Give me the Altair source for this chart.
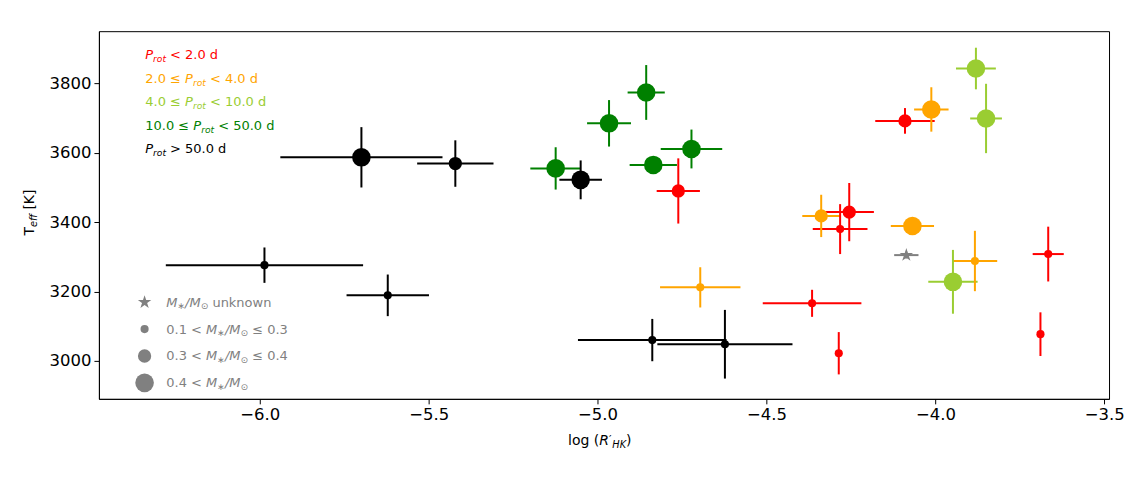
import altair as alt
import pandas as pd

# ---------------- data ----------------
rot_cat = ["gt50", "gt50", "gt50", "gt50", "gt50", "gt50", "gt50",
           "10to50", "10to50", "10to50", "10to50", "10to50",
           "4to10", "4to10", "4to10",
           "2to4", "2to4", "2to4", "2to4", "2to4",
           "lt2", "lt2", "lt2", "lt2", "lt2", "lt2", "lt2", "lt2",
           "unk"]
mass_cat = ["large", "med", "large", "small", "small", "small", "small",
            "large", "large", "large", "large", "large",
            "large", "large", "large",
            "large", "med", "large", "small", "small",
            "med", "med", "med", "small", "small", "small", "small", "small",
            "unk"]
log_rhk = [-5.699, -5.421, -5.050, -5.986, -5.621, -4.838, -4.623,
           -5.124, -4.966, -4.856, -4.835, -4.722,
           -3.880, -3.850, -3.948,
           -4.012, -4.338, -4.068, -3.883, -4.696,
           -4.090, -4.761, -4.255, -4.282, -4.365, -4.286, -3.666, -3.689,
           -4.086]
log_rhk_err = [0.240, 0.113, 0.063, 0.292, 0.122, 0.220, 0.200,
               0.075, 0.065, 0.055, 0.070, 0.091,
               0.059, 0.047, 0.073,
               0.051, 0.056, 0.064, 0.066, 0.119,
               0.088, 0.064, 0.073, 0.081, 0.146, 0.010, 0.046, 0.010,
               0.036]
teff = [3587, 3569, 3522, 3276, 3189, 3060, 3048,
        3555, 3685, 3774, 3565, 3611,
        3843, 3699, 3228,
        3725, 3418, 3389, 3288, 3212,
        3692, 3490, 3429, 3380, 3166, 3022, 3308, 3077,
        3305]
teff_err = [87, 67, 56, 51, 60, 61, 99,
            61, 67, 79, 20, 56,
            60, 100, 92,
            64, 61, 15, 87, 58,
            37, 94, 84, 72, 39, 61, 79, 63,
            10]

x_ticks = [-6.0, -5.5, -5.0, -4.5, -4.0, -3.5]
y_ticks = [3000, 3200, 3400, 3600, 3800]

rot_order = ["lt2", "2to4", "4to10", "10to50", "gt50"]
rot_labels = [
    [("P", "i"), ("rot", "sub"), (" < 2.0 d", "n")],
    [("2.0 ≤ ", "n"), ("P", "i"), ("rot", "sub"), (" < 4.0 d", "n")],
    [("4.0 ≤ ", "n"), ("P", "i"), ("rot", "sub"), (" < 10.0 d", "n")],
    [("10.0 ≤ ", "n"), ("P", "i"), ("rot", "sub"), (" < 50.0 d", "n")],
    [("P", "i"), ("rot", "sub"), (" > 50.0 d", "n")],
]
mass_order = ["unk", "small", "med", "large"]
_msun = [("M", "i"), ("∗", "sub"), ("/", "i"), ("M", "i"), ("⊙", "sub")]
mass_labels = [
    _msun + [(" unknown", "n")],
    [("0.1 < ", "n")] + _msun + [(" ≤ 0.3", "n")],
    [("0.3 < ", "n")] + _msun + [(" ≤ 0.4", "n")],
    [("0.4 < ", "n")] + _msun,
]

# ---------------- styles ----------------
STAR = ("M0,-1L0.2245,-0.309L0.951,-0.309L0.363,0.118L0.588,0.809L0,0.382"
        "L-0.588,0.809L-0.363,0.118L-0.951,-0.309L-0.2245,-0.309Z")
ROT_COLOR = {"lt2": "#ff0000", "2to4": "#ffa500", "4to10": "#9acd32",
             "10to50": "#008000", "gt50": "#000000", "unk": "#808080"}
MASS_SIZE = {"unk": 200, "small": 66, "med": 177, "large": 346}
MASS_SHAPE = {"unk": STAR, "small": "circle", "med": "circle", "large": "circle"}

W, H = 1011, 368
XLO, XHI = -6.476, -3.486
YLO, YHI = 2890.5, 3950.7


def px2x(px):
    return XLO + px * (XHI - XLO) / W


def py2y(py):
    return YHI - py * (YHI - YLO) / H


EM = {"0": .636, "1": .636, "2": .636, "3": .636, "4": .636, "5": .636,
      "6": .636, "7": .636, "8": .636, "9": .636, ".": .318, " ": .318,
      "<": .838, ">": .838, "≤": .838, "d": .635, "P": .603, "r": .411,
      "o": .612, "t": .392, "M": .863, "/": .337, "∗": .838, "⊙": .838,
      "u": .634, "n": .634, "k": .579, "w": .818, "l": .278, "g": .635,
      "(": .39, ")": .39, "R": .695, "H": .752, "K": .656, "T": .611,
      "e": .615, "f": .352, "[": .39, "]": .39, "′": .3}


def tw(s):
    return sum(EM.get(c, 0.6) for c in s)


def compose(pieces, x0, y0, fs, col, rotated=False):
    rows = []
    pos = 0.0
    for txt, sty in pieces:
        if sty == "sub":
            size, ital, off = fs * 0.7, True, fs * 0.22
        elif sty == "sup":
            size, ital, off = fs * 0.8, False, -fs * 0.1
        elif sty == "i":
            size, ital, off = fs, True, 0.0
        else:
            size, ital, off = fs, False, 0.0
        lead = len(txt) - len(txt.lstrip(" "))
        pos += lead * EM[" "] * size
        t = txt.strip(" ")
        if rotated:
            px, py = x0 + off, y0 - pos
        else:
            px, py = x0 + pos, y0 + off
        rows.append(dict(text=t, x=px2x(px), y=py2y(py), size=size,
                         col=col, rot=rotated, ital=ital))
        pos += tw(t) * size
        trail = len(txt.lstrip(" ")) - len(t)
        pos += trail * EM[" "] * size
    return rows


# ---------------- tables ----------------
pts = pd.DataFrame({
    "x": log_rhk, "xe": log_rhk_err, "y": teff, "ye": teff_err,
    "rot": rot_cat, "mass": mass_cat,
})
pts["xlo"] = pts["x"] - pts["xe"]
pts["xhi"] = pts["x"] + pts["xe"]
pts["ylo"] = pts["y"] - pts["ye"]
pts["yhi"] = pts["y"] + pts["ye"]
pts["col"] = pts["rot"].map(ROT_COLOR)
pts["sz"] = pts["mass"].map(MASS_SIZE)
pts["shape"] = pts["mass"].map(MASS_SHAPE)

# legend markers (mass)
leg_pts = pd.DataFrame({
    "x": [px2x(45.7)] * 4,
    "y": [py2y(271.3 + 26.9 * i) for i in range(4)],
    "col": ["#808080"] * 4,
    "sz": [MASS_SIZE[m] for m in mass_order],
    "shape": [MASS_SHAPE[m] for m in mass_order],
})

text_rows = []
for i, (r, pieces) in enumerate(zip(rot_order, rot_labels)):
    text_rows += compose(pieces, 46.4, 28.0 + 23.6 * i, 13, ROT_COLOR[r])
for i, pieces in enumerate(mass_labels):
    text_rows += compose(pieces, 67.4, 275.7 + 26.9 * i, 13, "#808080")
# x axis title: log (R'_HK)
text_rows += compose([("log (", "n"), ("R", "i"), ("′", "sup"),
                      ("HK", "sub"), (")", "n")], 469.5, 414.0, 14, "#000000")
# y axis title: T_eff [K]
text_rows += compose([("T", "n"), ("eff", "sub"), (" [K]", "n")],
                     -65.3, 204.5, 14, "#000000", rotated=True)
txt = pd.DataFrame(text_rows)

# ---------------- encodings ----------------
xs = alt.Scale(domain=[XLO, XHI], nice=False, zero=False)
ys = alt.Scale(domain=[YLO, YHI], nice=False, zero=False)
common = dict(grid=False, title=None, labelFontSize=16.5, labelFont="DejaVu Sans",
              labelColor="black", tickColor="black", domainColor="black",
              tickSize=5, tickWidth=1, domainWidth=1, labelPadding=3)
xaxis = alt.Axis(values=x_ticks, format=".1f", orient="bottom", **common)
yaxis = alt.Axis(values=y_ticks, format="d", orient="left", **common)


def X(f):
    return alt.X(f"{f}:Q", scale=xs, axis=xaxis)


def Y(f):
    return alt.Y(f"{f}:Q", scale=ys, axis=yaxis)


base = alt.Chart(pts)
xerr = base.mark_rule(strokeWidth=2).encode(
    x=X("xlo"), x2="xhi", y=Y("y"), color=alt.Color("col:N", scale=None))
yerr = base.mark_rule(strokeWidth=2).encode(
    x=X("x"), y=Y("ylo"), y2="yhi", color=alt.Color("col:N", scale=None))
dots = base.mark_point(filled=True, opacity=1, strokeWidth=0).encode(
    x=X("x"), y=Y("y"),
    color=alt.Color("col:N", scale=None),
    size=alt.Size("sz:Q", scale=None),
    shape=alt.Shape("shape:N", scale=None))
leg_dots = alt.Chart(leg_pts).mark_point(filled=True, opacity=1, strokeWidth=0).encode(
    x=X("x"), y=Y("y"),
    color=alt.Color("col:N", scale=None),
    size=alt.Size("sz:Q", scale=None),
    shape=alt.Shape("shape:N", scale=None))


def text_layer(italic, rotated):
    d = txt[(txt["ital"] == italic) & (txt["rot"] == rotated)]
    return alt.Chart(d).mark_text(
        align="left", baseline="alphabetic", font="DejaVu Sans",
        angle=270 if rotated else 0,
        fontStyle="italic" if italic else "normal").encode(
        x=X("x"), y=Y("y"), text="text:N",
        color=alt.Color("col:N", scale=None),
        size=alt.Size("size:Q", scale=None))


layers = [xerr, yerr, dots, leg_dots]
for it in (False, True):
    for rt in (False, True):
        layers.append(text_layer(it, rt))

chart = alt.layer(*layers).properties(
    width=W, height=H,
    autosize=alt.AutoSizeParams(type="none"),
    padding={"left": 91, "top": 23, "right": 30, "bottom": 60},
    background="white",
).configure_view(stroke="black", strokeWidth=1)

chart.save("out.html", embed_options={"renderer": "svg", "actions": False})
